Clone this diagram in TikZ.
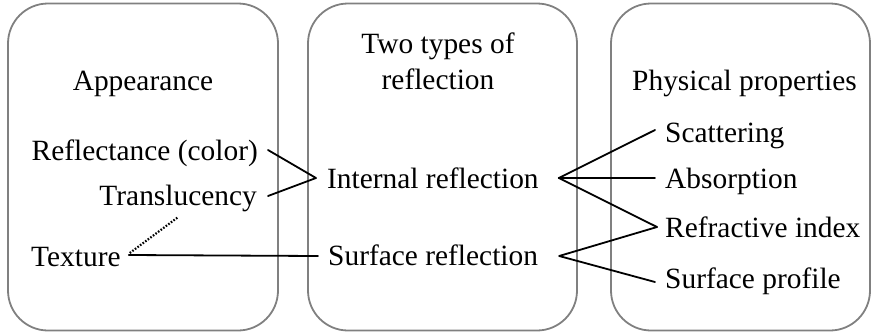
\documentclass[tikz,border=0pt]{standalone}
\usepackage{fontspec}
\setmainfont{Liberation Serif}
\usetikzlibrary{calc}
\definecolor{panelgray}{RGB}{128,128,128}
\begin{document}
\begin{tikzpicture}[x=1pt,y=-1pt,
  panel/.style={draw=panelgray, line width=1.8pt, rounded corners=40pt, inner sep=0pt},
  lbl/.style={inner sep=0pt, font=\fontsize{29.4}{35.5}\selectfont},
  link/.style={line width=1.8pt, line cap=round, line join=round},
  dotlink/.style={line width=2.2pt, dash pattern=on 1.6pt off 1.6pt}]
\useasboundingbox (0,0) rectangle (872,335);
% panels
\node[panel, minimum width=270pt, minimum height=327pt] (pa) at (143,167) {};
\node[panel, minimum width=269pt, minimum height=327pt] (pb) at (442.5,167) {};
\node[panel, minimum width=259pt, minimum height=327pt] (pc) at (740.5,167) {};
% left column
\node[lbl, anchor=base] (app) at (143,90) {Appearance};
\node[lbl, anchor=base east] (refl) at (258,160) {Reflectance (color)};
\node[lbl, anchor=base east] (trans) at (257,205) {Translucency};
\node[lbl, anchor=base west] (tex) at (31,266) {Texture};
% middle column
\node[lbl, anchor=north, align=center] (two) at (438,33) {Two types of\\reflection};
\node[lbl, anchor=base west] (int) at (327,188) {Internal reflection};
\node[lbl, anchor=base west] (surf) at (328,265) {Surface reflection};
% right column
\node[lbl, anchor=base west] (phys) at (632,90) {Physical properties};
\node[lbl, anchor=base west] (sca) at (665,142) {Scattering};
\node[lbl, anchor=base west] (abs) at (665,188) {Absorption};
\node[lbl, anchor=base west] (ref) at (665,237) {Refractive index};
\node[lbl, anchor=base west] (prof) at (665,288) {Surface profile};
% junction points
\coordinate (vin) at ($(int.base west)+(-11,-10)$);
\coordinate (vint) at ($(int.base east)+(20,-10)$);
\coordinate (vsurf) at ($(surf.base east)+(21,-9)$);
\coordinate (vref) at ($(ref.base west)+(-8,-10)$);
% connectors
\draw[link] ($(refl.base east)+(10,-10)$) -- (vin) -- ($(trans.base east)+(11,-9)$);
\draw[link] ($(tex.base east)+(8,-11)$) -- ($(surf.base west)+(-10,-9)$);
\draw[dotlink] ($(tex.base east)+(9,-13)$) -- ($(trans.base west)+(79,12)$);
\draw[link] ($(sca.base west)+(-10,-12)$) -- (vint) -- (vref);
\draw[link] (vint) -- ($(abs.base west)+(-10,-10)$);
\draw[link] (vref) -- (vsurf) -- ($(prof.base west)+(-10,-6)$);
\end{tikzpicture}
\end{document}
